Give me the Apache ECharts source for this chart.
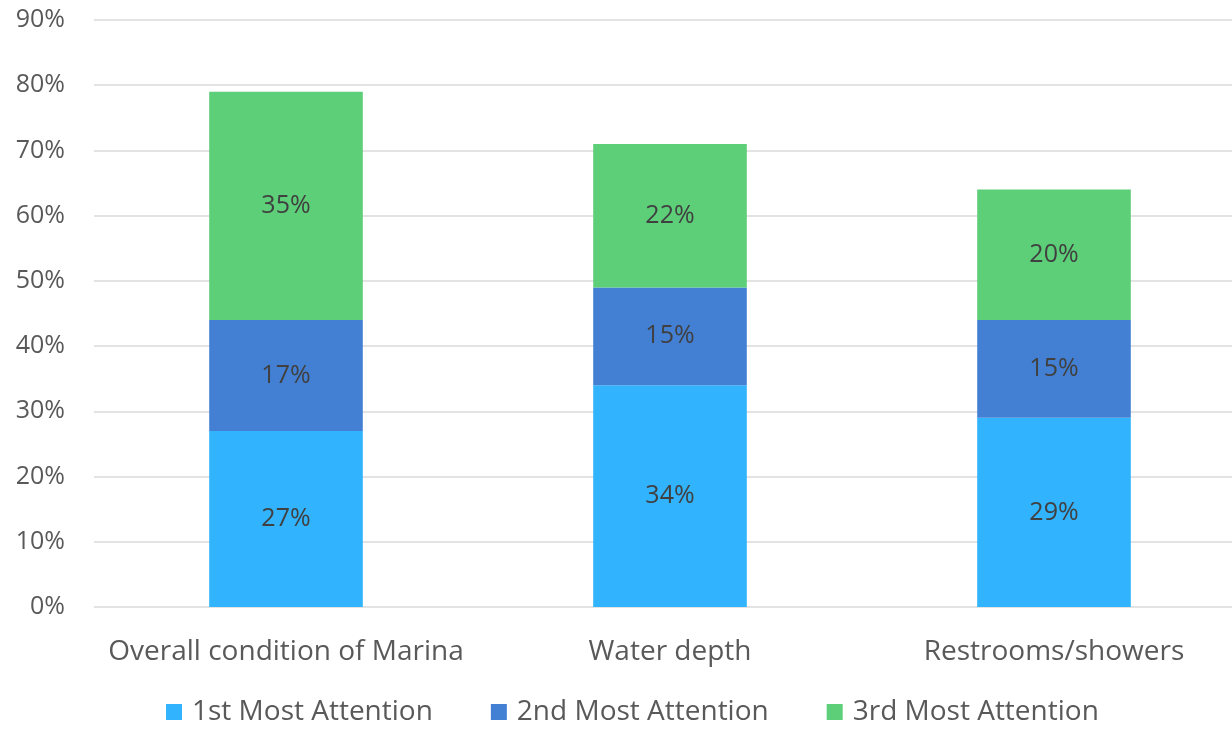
<!DOCTYPE html>
<html>
<head>
<meta charset="utf-8">
<script src="https://cdn.jsdelivr.net/npm/echarts@6/dist/echarts.min.js"></script>
<style>
  html, body { margin: 0; padding: 0; background: #fff; overflow: hidden; }
  /* plot area runs slightly past the right edge of the window */
  #chart { width: 1246px; height: 729px; }
</style>
</head>
<body>
<div id="chart"></div>
<script>
// Stacked share of attention per marina area
const categories = ['Overall condition of Marina', 'Water depth', 'Restrooms/showers'];
const seriesNames = ['1st Most Attention', '2nd Most Attention', '3rd Most Attention'];
const firstMost = [27, 34, 29];
const secondMost = [17, 15, 15];
const thirdMost = [35, 22, 20];
const yTicks = [0, 10, 20, 30, 40, 50, 60, 70, 80, 90];

const colors = ['#31B3FE', '#4380D4', '#5DCF79'];
const font = '"Open Sans", "Noto Sans", sans-serif';

const chart = echarts.init(document.getElementById('chart'), null, { renderer: 'canvas' });

function makeSeries(name, data, color) {
  return {
    name: name,
    type: 'bar',
    stack: 'total',
    data: data,
    barWidth: '40%',
    itemStyle: { color: color },
    label: {
      show: true,
      position: 'inside',
      formatter: p => p.value + '%',
      color: '#404040',
      fontFamily: font,
      fontSize: 25
    },
    emphasis: { disabled: true }
  };
}

chart.setOption({
  animation: false,
  color: colors,
  grid: { left: 94, right: 0, top: 20, bottom: 122, containLabel: false },
  xAxis: {
    type: 'category',
    data: categories,
    axisLine: { show: false },
    axisTick: { show: false },
    axisLabel: {
      interval: 0,
      color: '#595959',
      fontFamily: font,
      fontSize: 28,
      margin: 31
    }
  },
  yAxis: {
    type: 'value',
    min: yTicks[0],
    max: yTicks[yTicks.length - 1],
    interval: 10,
    axisLine: { show: false },
    axisTick: { show: false },
    splitLine: { lineStyle: { color: '#e3e3e3', width: 2 } },
    axisLabel: {
      color: '#595959',
      fontFamily: font,
      fontSize: 25,
      margin: 29,
      formatter: v => v + '%'
    }
  },
  legend: {
    top: 693,
    left: 161,
    itemWidth: 16,
    itemHeight: 16,
    itemGap: 58,
    icon: 'rect',
    textStyle: { color: '#595959', fontFamily: font, fontSize: 28, padding: [0, 0, 0, 5] },
    data: seriesNames
  },
  series: [
    makeSeries(seriesNames[0], firstMost, colors[0]),
    makeSeries(seriesNames[1], secondMost, colors[1]),
    makeSeries(seriesNames[2], thirdMost, colors[2])
  ]
});
</script>
</body>
</html>
